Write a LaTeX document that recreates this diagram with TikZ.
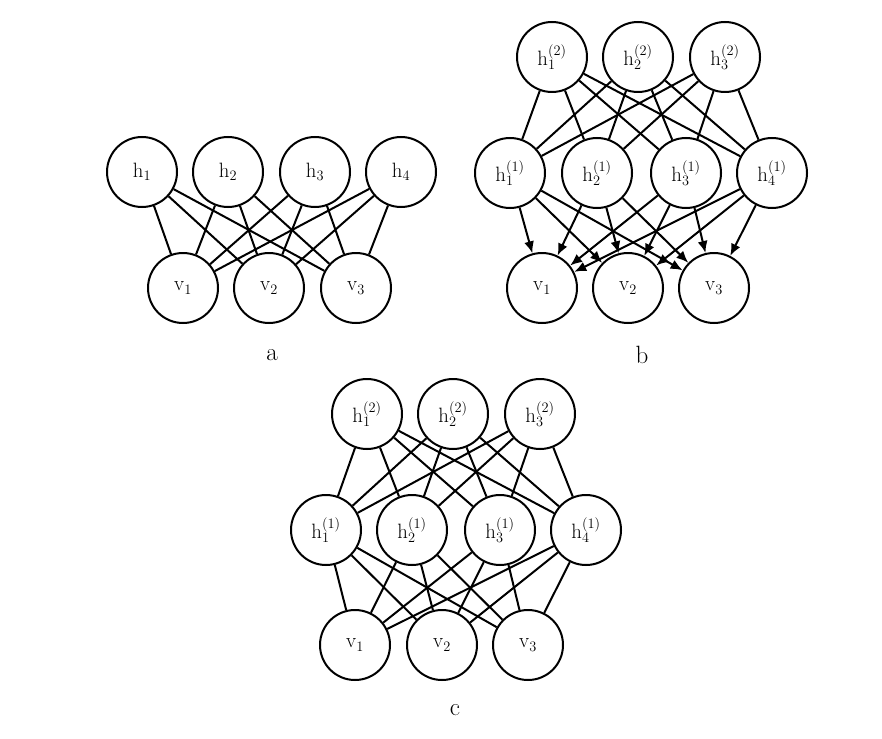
\documentclass[tikz,border=0pt]{standalone}
\usetikzlibrary{arrows.meta}
\begin{document}
\begin{tikzpicture}[x=1pt,y=-1pt,
  unit/.style={circle,draw,line width=2pt,minimum size=70pt,inner sep=0pt,font=\fontsize{20}{22}\selectfont},
  edge/.style={line width=2pt},
  arr/.style={line width=2pt,-{Latex[length=12pt,width=10pt]}},
  panelcap/.style={font=\fontsize{25}{27}\selectfont}]
\useasboundingbox (0,0) rectangle (882,738);
% ---- panel a ----
\foreach \i/\x in {1/142,2/228,3/315,4/401}
  \node[unit] (ah\i) at (\x,172) {$\mathrm{h}_{\i}$};
\foreach \i/\x in {1/183,2/269,3/356}
  \node[unit] (av\i) at (\x,288) {$\mathrm{v}_{\i}$};
\foreach \i in {1,...,4}\foreach \j in {1,2,3}
  \draw[edge] (ah\i) -- (av\j);
\node[panelcap] (la) at (272,355) {a};
% ---- panel b ----
\foreach \i/\x in {1/552,2/638,3/725}
  \node[unit] (bt\i) at (\x,57) {$\mathrm{h}^{(2)}_{\i}$};
\foreach \i/\x in {1/510,2/597,3/686,4/772}
  \node[unit] (bh\i) at (\x,173) {$\mathrm{h}^{(1)}_{\i}$};
\foreach \i/\x in {1/542,2/628,3/714}
  \node[unit] (bv\i) at (\x,288) {$\mathrm{v}_{\i}$};
\foreach \i in {1,2,3}\foreach \j in {1,...,4}
  \draw[edge] (bt\i) -- (bh\j);
\foreach \i in {1,...,4}\foreach \j in {1,2,3}
  \draw[arr] (bh\i) -- (bv\j);
\node[panelcap] (lb) at (642,355) {b};
% ---- panel c ----
\foreach \i/\x in {1/367,2/453,3/540}
  \node[unit] (ct\i) at (\x,414) {$\mathrm{h}^{(2)}_{\i}$};
\foreach \i/\x in {1/326,2/412,3/500,4/586}
  \node[unit] (ch\i) at (\x,530) {$\mathrm{h}^{(1)}_{\i}$};
\foreach \i/\x in {1/355,2/442,3/528}
  \node[unit] (cv\i) at (\x,645) {$\mathrm{v}_{\i}$};
\foreach \i in {1,2,3}\foreach \j in {1,...,4}
  \draw[edge] (ct\i) -- (ch\j);
\foreach \i in {1,...,4}\foreach \j in {1,2,3}
  \draw[edge] (ch\i) -- (cv\j);
\node[panelcap] (lc) at (455,710) {c};
\end{tikzpicture}
\end{document}
